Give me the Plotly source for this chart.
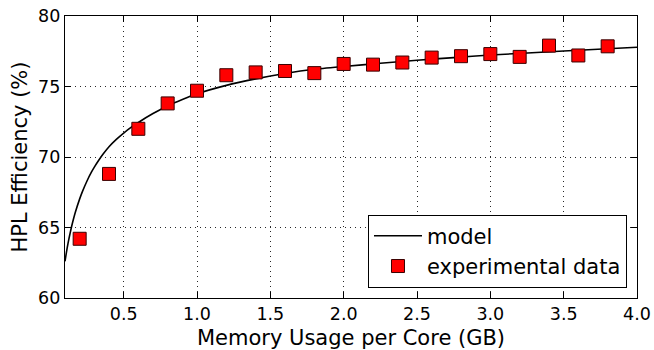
import plotly.graph_objects as go

# Experimental data
exp_x = [0.2, 0.4, 0.6, 0.8, 1.0, 1.2, 1.4, 1.6, 1.8, 2.0, 2.2, 2.4, 2.6, 2.8, 3.0, 3.2, 3.4, 3.6, 3.8]
exp_y = [64.2, 68.8, 72.0, 73.8, 74.7, 75.8, 76.0, 76.1, 75.95, 76.6, 76.55, 76.7, 77.05, 77.15, 77.3, 77.1, 77.9, 77.2, 77.85]

# Model curve
model_x = [0.10, 0.11, 0.12, 0.13, 0.14, 0.15, 0.17, 0.20, 0.22, 0.25, 0.28, 0.30, 0.33, 0.36, 0.40,
           0.45, 0.50, 0.55, 0.60, 0.70, 0.80, 0.90, 1.00,
           1.20, 1.40, 1.60, 1.80, 2.00, 2.25, 2.50, 2.75, 3.00, 3.50, 4.00]
model_y = [62.6, 63.26, 63.84, 64.36, 64.84, 65.28, 66.06, 67.03, 67.58, 68.30, 68.92, 69.28, 69.77, 70.21, 70.73,
           71.25, 71.7, 72.1, 72.45, 73.08, 73.62, 74.07, 74.48,
           75.08, 75.54, 75.92, 76.22, 76.42, 76.65, 76.86, 77.05, 77.23, 77.52, 77.78]

FONT = "DejaVu Sans"

fig = go.Figure()
fig.add_trace(go.Scatter(
    x=model_x, y=model_y, mode="lines", name="model",
    line=dict(color="black", width=1.6, shape="spline", smoothing=0.5),
))
fig.add_trace(go.Scatter(
    x=exp_x, y=exp_y, mode="markers", name="experimental data",
    marker=dict(symbol="square", size=13, color="#ff0000",
                line=dict(color="#3a0000", width=1)),
))

axis_common = dict(
    showline=True, linecolor="black", linewidth=1.3, mirror="ticks",
    ticks="inside", ticklen=6, tickwidth=1.3, tickcolor="black",
    showgrid=True, gridcolor="rgba(0,0,0,0.85)", gridwidth=1, griddash="1px,4px",
    zeroline=False, automargin=False,
    tickfont=dict(family=FONT, size=17.5, color="black"),
)

fig.update_xaxes(
    range=[0.1, 4.0], tick0=0, dtick=0.5, tickformat=".1f",
    title=dict(text="Memory Usage per Core (GB)", font=dict(family=FONT, size=21, color="black"), standoff=9),
    **axis_common,
)
fig.update_yaxes(
    range=[60, 80], tick0=60, dtick=5,
    title=dict(text="HPL Efficiency (%)", font=dict(family=FONT, size=21, color="black"), standoff=4),
    **axis_common,
)

fig.update_layout(
    width=654, height=350,
    margin=dict(l=65, r=17, t=16, b=52),
    plot_bgcolor="white", paper_bgcolor="white",
    font=dict(family=FONT, color="black"),
    legend=dict(
        x=0.9825, y=0.037, xanchor="right", yanchor="bottom",
        bordercolor="black", borderwidth=1, bgcolor="white",
        font=dict(family=FONT, size=21, color="black"),
        itemwidth=48, tracegroupgap=0,
    ),
    showlegend=True,
)

fig.write_html("out.html")
